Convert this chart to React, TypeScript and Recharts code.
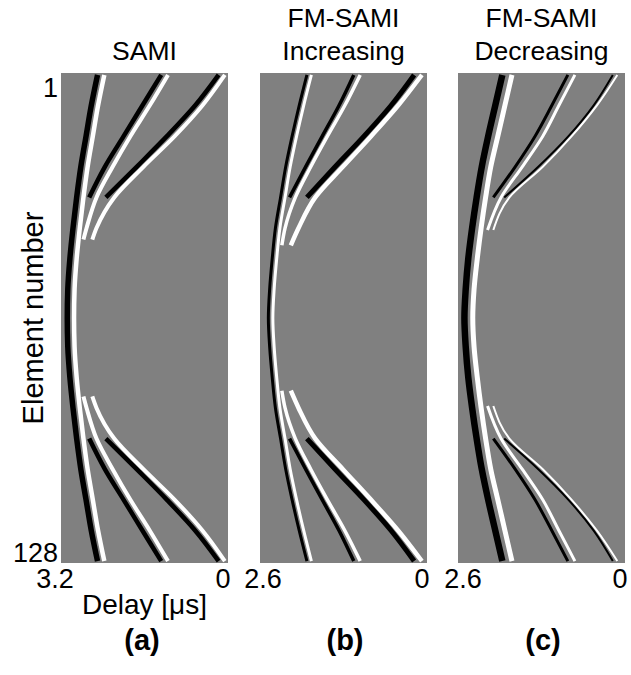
import React from 'react';
import { ScatterChart, Scatter, XAxis, YAxis, CartesianGrid } from 'recharts';

const FONT = '"Liberation Sans", Arial, Helvetica, sans-serif';
const DARK = '#000000';
const LIGHT = '#ffffff';
const FIELD = '#808080';

// element rows sampled along each delay curve
const MAIN_ROWS = [1, 9, 17, 25, 33, 41, 49, 57, 64.5, 72, 80, 88, 96, 104, 112, 120, 128];
const TOP_ROWS = [1, 9, 17, 25, 33];
const BOTTOM_ROWS = [128, 120, 112, 104, 96];

// the light side-lobes run a little further towards the centre than the dark ones
const SAMI_TAIL_TOP = [1, 9, 17, 25, 33, 41, 44];
const SAMI_TAIL_BOTTOM = [128, 120, 112, 104, 96, 88, 85];
const INC_TAIL_TOP = [1, 9, 17, 25, 33, 41, 45.5];
const INC_TAIL_BOTTOM = [128, 120, 112, 104, 96, 88, 83.5];
const DEC_TAIL_TOP = [1, 9, 17, 25, 33, 41.5];
const DEC_TAIL_BOTTOM = [128, 120, 112, 104, 96, 87.5];

// delays in µs — SAMI
const SAMI_MAIN_DARK = [2.5, 2.62, 2.72, 2.82, 2.9, 2.97, 3.03, 3.07, 3.08, 3.07, 3.03, 2.97, 2.9, 2.82, 2.72, 2.62, 2.5];
const SAMI_MAIN_LIGHT = [2.37, 2.49, 2.59, 2.69, 2.77, 2.84, 2.9, 2.94, 2.95, 2.94, 2.9, 2.84, 2.77, 2.69, 2.59, 2.49, 2.37];
const SAMI_MID_DARK = [1.28, 1.64, 2.0, 2.36, 2.66];
const SAMI_MID_LIGHT = [1.15, 1.5, 1.87, 2.21, 2.52, 2.71, 2.77];
const SAMI_OUTER_DARK = [0.18, 0.63, 1.17, 1.75, 2.34];
const SAMI_OUTER_LIGHT = [0.06, 0.49, 1.02, 1.62, 2.18, 2.52, 2.6];

// FM-SAMI, increasing
const INC_MAIN_DARK = [1.87, 1.99, 2.1, 2.2, 2.28, 2.36, 2.41, 2.45, 2.47, 2.45, 2.41, 2.36, 2.28, 2.2, 2.1, 1.99, 1.87];
const INC_MAIN_LIGHT = [1.8, 1.92, 2.03, 2.13, 2.21, 2.29, 2.34, 2.38, 2.4, 2.38, 2.34, 2.29, 2.21, 2.13, 2.03, 1.92, 1.8];
const INC_MID_DARK = [1.14, 1.37, 1.63, 1.89, 2.14];
const INC_MID_LIGHT = [1.04, 1.28, 1.55, 1.81, 2.05, 2.21, 2.26];
const INC_OUTER_DARK = [0.2, 0.56, 0.98, 1.43, 1.87];
const INC_OUTER_LIGHT = [0.08, 0.45, 0.87, 1.31, 1.74, 2.0, 2.12];

// FM-SAMI, decreasing
const DEC_MAIN_DARK = [1.91, 2.02, 2.13, 2.23, 2.31, 2.38, 2.44, 2.48, 2.5, 2.48, 2.44, 2.38, 2.31, 2.23, 2.13, 2.02, 1.91];
const DEC_MAIN_LIGHT = [1.76, 1.87, 1.98, 2.09, 2.17, 2.24, 2.3, 2.35, 2.37, 2.35, 2.3, 2.24, 2.17, 2.09, 1.98, 1.87, 1.76];
const DEC_MID_DARK = [0.89, 1.14, 1.4, 1.71, 2.05];
const DEC_MID_LIGHT = [0.78, 1.03, 1.28, 1.6, 1.93, 2.14];
const DEC_OUTER_DARK = [0.19, 0.49, 0.88, 1.35, 1.88];
const DEC_OUTER_LIGHT = [0.12, 0.44, 0.83, 1.28, 1.8, 2.05];

const PLOT_W = 167;
const PLOT_H = 490;
const PLOT_TOP = 73;
const X_AXIS_H = 60;
const PAD = 20;

type Trace = { rows: number[]; delays: number[]; color: string; width: number };

const pair = (rows: number[], delays: number[]) => rows.map((n, i) => ({ n, d: delays[i] }));

const NoDot = () => <g />;

// end labels of the delay axis; the max-delay label gets its own nudge
const makeXTick = (maxShift: number) => (props: any) => {
  const { x, y, payload } = props;
  const dx = payload.value === 0 ? -5 : maxShift;
  return (
    <text x={x + dx} y={y + 21} textAnchor="middle" fontSize={27} fontFamily={FONT} fill="#000">
      {payload.value}
    </text>
  );
};

const YTick = (props: any) => {
  const { x, y, payload } = props;
  // labels sit inside the element range, flush with the image edges
  const shift = payload.value === 1 ? 22 : 1;
  return (
    <text x={x} y={y + shift} textAnchor="end" fontSize={27} fontFamily={FONT} fill="#000">
      {payload.value}
    </text>
  );
};

interface PanelProps {
  left: number;
  maxDelay: number;
  maxShift: number;
  traces: Trace[];
  withElementAxis?: boolean;
}

const DelayPanel: React.FC<PanelProps> = ({ left, maxDelay, maxShift, traces, withElementAxis }) => {
  const yw = withElementAxis ? 61 : 0;
  const marginLeft = withElementAxis ? 0 : PAD;
  const width = marginLeft + yw + PLOT_W + PAD;
  const XTick = makeXTick(maxShift);
  return (
    <div style={{ position: 'absolute', left: left - marginLeft - yw, top: PLOT_TOP }}>
      <ScatterChart
        width={width}
        height={PLOT_H + X_AXIS_H}
        margin={{ top: 0, right: PAD, bottom: 0, left: marginLeft }}
      >
        <CartesianGrid horizontal={false} vertical={false} fill={FIELD} fillOpacity={1} />
        <XAxis
          type="number"
          dataKey="d"
          domain={[0, maxDelay]}
          ticks={[maxDelay, 0]}
          reversed
          allowDataOverflow
          axisLine={false}
          tickLine={false}
          tickSize={2}
          tickMargin={2}
          height={X_AXIS_H}
          tick={<XTick />}
          interval={0}
          label={
            withElementAxis
              ? { value: 'Delay [μs]', position: 'insideBottom', offset: 9, fontSize: 28, fontFamily: FONT, fill: '#000' }
              : undefined
          }
        />
        <YAxis
          type="number"
          dataKey="n"
          domain={[0.5, 128.5]}
          ticks={[1, 128]}
          reversed
          allowDataOverflow
          hide={!withElementAxis}
          width={yw}
          axisLine={false}
          tickLine={false}
          tickSize={2}
          tickMargin={1}
          tick={<YTick />}
          interval={0}
          label={
            withElementAxis
              ? {
                  value: 'Element number',
                  angle: -90,
                  position: 'insideLeft',
                  offset: 33,
                  fontSize: 29,
                  fontFamily: FONT,
                  fill: '#000',
                  style: { textAnchor: 'middle' },
                }
              : undefined
          }
        />
        {traces.map((t, i) => (
          <Scatter
            key={i}
            data={pair(t.rows, t.delays)}
            line={{ stroke: t.color, strokeWidth: t.width, strokeLinejoin: 'round' }}
            lineType="joint"
            lineJointType="monotoneY"
            shape={<NoDot />}
            isAnimationActive={false}
          />
        ))}
      </ScatterChart>
    </div>
  );
};

const samiTraces: Trace[] = [
  { rows: MAIN_ROWS, delays: SAMI_MAIN_DARK, color: DARK, width: 5.5 },
  { rows: TOP_ROWS, delays: SAMI_MID_DARK, color: DARK, width: 4.5 },
  { rows: BOTTOM_ROWS, delays: SAMI_MID_DARK, color: DARK, width: 4.5 },
  { rows: TOP_ROWS, delays: SAMI_OUTER_DARK, color: DARK, width: 4.5 },
  { rows: BOTTOM_ROWS, delays: SAMI_OUTER_DARK, color: DARK, width: 4.5 },
  { rows: MAIN_ROWS, delays: SAMI_MAIN_LIGHT, color: LIGHT, width: 4.5 },
  { rows: SAMI_TAIL_TOP, delays: SAMI_MID_LIGHT, color: LIGHT, width: 4 },
  { rows: SAMI_TAIL_BOTTOM, delays: SAMI_MID_LIGHT, color: LIGHT, width: 4 },
  { rows: SAMI_TAIL_TOP, delays: SAMI_OUTER_LIGHT, color: LIGHT, width: 4 },
  { rows: SAMI_TAIL_BOTTOM, delays: SAMI_OUTER_LIGHT, color: LIGHT, width: 4 },
];

const incTraces: Trace[] = [
  { rows: MAIN_ROWS, delays: INC_MAIN_DARK, color: DARK, width: 3 },
  { rows: TOP_ROWS, delays: INC_MID_DARK, color: DARK, width: 3.5 },
  { rows: BOTTOM_ROWS, delays: INC_MID_DARK, color: DARK, width: 3.5 },
  { rows: TOP_ROWS, delays: INC_OUTER_DARK, color: DARK, width: 5 },
  { rows: BOTTOM_ROWS, delays: INC_OUTER_DARK, color: DARK, width: 5 },
  { rows: MAIN_ROWS, delays: INC_MAIN_LIGHT, color: LIGHT, width: 3 },
  { rows: INC_TAIL_TOP, delays: INC_MID_LIGHT, color: LIGHT, width: 3.5 },
  { rows: INC_TAIL_BOTTOM, delays: INC_MID_LIGHT, color: LIGHT, width: 3.5 },
  { rows: INC_TAIL_TOP, delays: INC_OUTER_LIGHT, color: LIGHT, width: 4.5 },
  { rows: INC_TAIL_BOTTOM, delays: INC_OUTER_LIGHT, color: LIGHT, width: 4.5 },
];

const decTraces: Trace[] = [
  { rows: MAIN_ROWS, delays: DEC_MAIN_DARK, color: DARK, width: 6.5 },
  { rows: TOP_ROWS, delays: DEC_MID_DARK, color: DARK, width: 3 },
  { rows: BOTTOM_ROWS, delays: DEC_MID_DARK, color: DARK, width: 3 },
  { rows: TOP_ROWS, delays: DEC_OUTER_DARK, color: DARK, width: 2 },
  { rows: BOTTOM_ROWS, delays: DEC_OUTER_DARK, color: DARK, width: 2 },
  { rows: MAIN_ROWS, delays: DEC_MAIN_LIGHT, color: LIGHT, width: 5 },
  { rows: DEC_TAIL_TOP, delays: DEC_MID_LIGHT, color: LIGHT, width: 3 },
  { rows: DEC_TAIL_BOTTOM, delays: DEC_MID_LIGHT, color: LIGHT, width: 3 },
  { rows: DEC_TAIL_TOP, delays: DEC_OUTER_LIGHT, color: LIGHT, width: 2 },
  { rows: DEC_TAIL_BOTTOM, delays: DEC_OUTER_LIGHT, color: LIGHT, width: 2 },
];

const Title: React.FC<{ center: number; lines: string[] }> = ({ center, lines }) => (
  <div
    style={{
      position: 'absolute',
      left: center - 90,
      width: 180,
      top: 0,
      height: 68,
      display: 'flex',
      flexDirection: 'column',
      justifyContent: 'flex-end',
      alignItems: 'center',
      fontFamily: FONT,
      fontSize: 26.5,
      lineHeight: '33px',
      color: '#000',
    }}
  >
    {lines.map((l) => (
      <div key={l}>{l}</div>
    ))}
  </div>
);

const Tag: React.FC<{ center: number; text: string }> = ({ center, text }) => (
  <div
    style={{
      position: 'absolute',
      left: center - 40,
      width: 80,
      top: 622,
      textAlign: 'center',
      fontFamily: FONT,
      fontSize: 29,
      fontWeight: 'bold',
      lineHeight: '36px',
      color: '#000',
    }}
  >
    {text}
  </div>
);

export default function App() {
  return (
    <div
      style={{
        position: 'absolute',
        left: 0,
        top: 0,
        width: 631,
        height: 675,
        overflow: 'hidden',
        background: '#fff',
      }}
    >
      <Title center={144.5} lines={['SAMI']} />
      <Title center={343.5} lines={['FM-SAMI', 'Increasing']} />
      <Title center={541.5} lines={['FM-SAMI', 'Decreasing']} />
      <DelayPanel left={61} maxDelay={3.2} maxShift={-6} traces={samiTraces} withElementAxis />
      <DelayPanel left={260} maxDelay={2.6} maxShift={3} traces={incTraces} />
      <DelayPanel left={458} maxDelay={2.6} maxShift={5} traces={decTraces} />
      <Tag center={142} text="(a)" />
      <Tag center={345} text="(b)" />
      <Tag center={543} text="(c)" />
    </div>
  );
}
